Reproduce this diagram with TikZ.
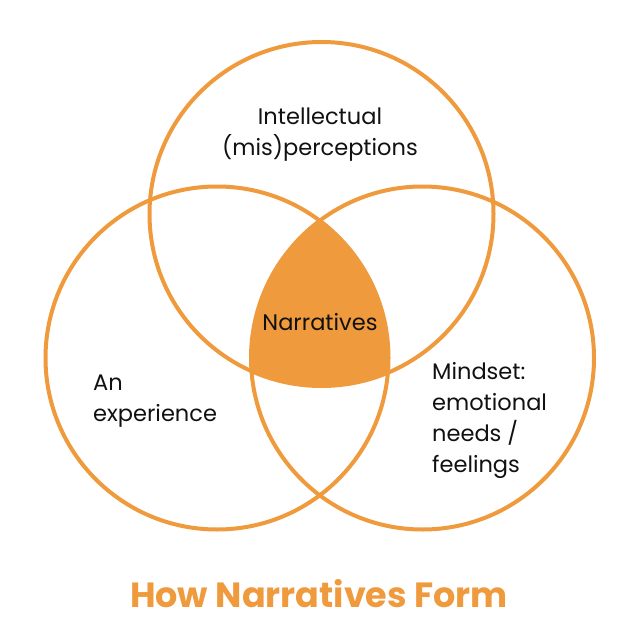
\documentclass[tikz,border=0pt]{standalone}
\usepackage{fontspec}
\setmainfont{Poppins}
\usepackage{xcolor}
\definecolor{venn}{RGB}{239,154,60}
\definecolor{ink}{RGB}{17,17,17}
\tikzset{ring/.style={draw=venn,line width=4pt}}
\tikzset{label/.style={text=ink,inner sep=0pt,font=\fontsize{22.5}{31}\selectfont}}

\begin{document}
\begin{tikzpicture}[x=1pt,y=-1pt]
      \useasboundingbox (0,0) rectangle (639,639);
      \coordinate (top) at (321.5,214);
      \coordinate (left) at (217,358);
      \coordinate (right) at (422.5,358);
      \begin{scope}
        \clip (left) circle (171.5);
        \clip (right) circle (171.5);
        \fill [venn] (top) circle (172);
      \end{scope}
      \draw [ring] (top) circle (172);
      \draw [ring] (left) circle (171.5);
      \draw [ring] (right) circle (171.5);
      \node [label,align=center] (intel) at (320,135) {Intellectual\\(mis)perceptions};
      \node [label] (narr) at (320,322) {Narratives};
      \node [label,align=left,anchor=west] (exp) at (93,401) {An\\experience};
      \node [label,align=left,anchor=west] (mind) at (432,420) {Mindset:\\emotional\\needs /\\feelings};
      \node [text=venn,inner sep=0pt,font=\fontsize{35}{40}\selectfont\bfseries] (title) at (319,594) {How Narratives Form};
    \end{tikzpicture}
\end{document}
